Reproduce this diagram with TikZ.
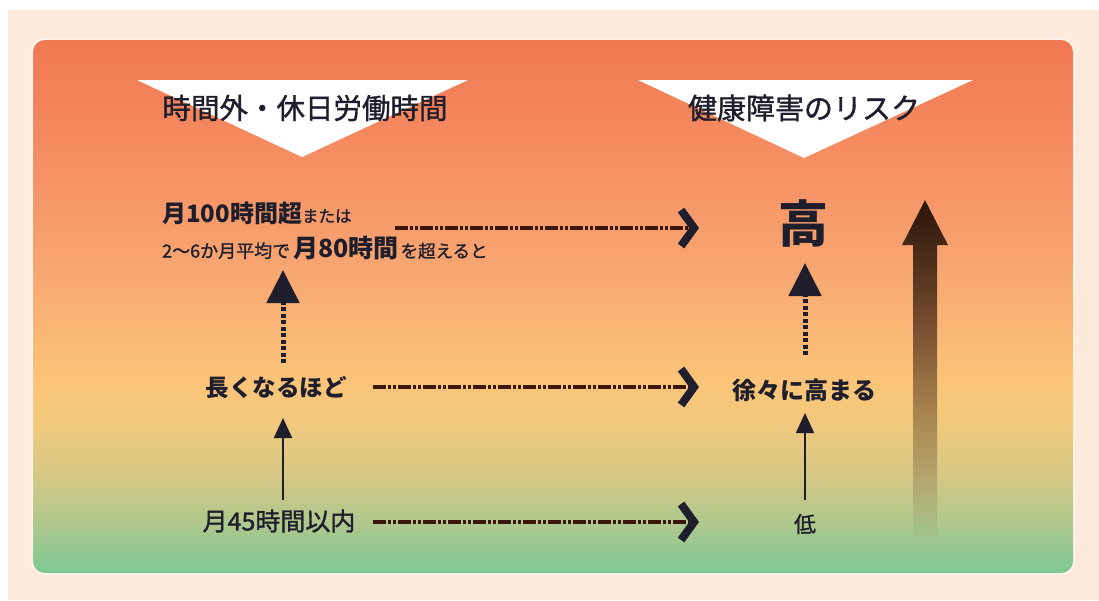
\documentclass[tikz,border=0pt]{standalone}
\usepackage{fontspec}
\newfontfamily\jp{Noto Sans CJK JP}
\newfontfamily\jpm{Noto Sans CJK JP}[FakeBold=1.2]
\usetikzlibrary{arrows.meta,fadings}
\definecolor{pagebg}{HTML}{FCEADD}
\definecolor{ga}{HTML}{F07852}
\definecolor{gb}{HTML}{F58C62}
\definecolor{gc}{HTML}{F7A470}
\definecolor{gd}{HTML}{FBC478}
\definecolor{ge}{HTML}{F2C97C}
\definecolor{gf}{HTML}{D2C886}
\definecolor{gg}{HTML}{A8C88E}
\definecolor{gh}{HTML}{7CC892}
\definecolor{ink}{HTML}{1E1E2C}
\definecolor{dashbrown}{HTML}{3A160C}
\definecolor{arrowdark}{HTML}{2A1508}
\tikzfading[name=arrowfade, top color=transparent!0, bottom color=transparent!100]
\newcommand\fs[1]{\fontsize{#1}{#1}\selectfont}
\tikzset{
  txt/.style={inner sep=0pt, text=ink, font=\jp},
  hdash/.style={draw=dashbrown, line width=4pt,
    dash pattern=on 13pt off 2pt on 3pt off 2pt on 3pt off 2pt,
    -{Straight Barb[length=13pt, width=36pt, line width=8pt, color=ink]}},
  vdot/.style={draw=ink, line width=5pt, dash pattern=on 4pt off 2.5pt,
    -{Triangle[length=33pt, width=32pt]}},
  vthin/.style={draw=ink, line width=1.8pt, -{Triangle[length=20pt, width=18pt]}},
  banner/.style={fill=white}
}
\begin{document}
\begin{tikzpicture}[x=1pt,y=-1pt]
\useasboundingbox (0,0) rectangle (1099,600);
% page background
\fill[pagebg] (0,0) rectangle (1099,600);
\fill[white] (0,0) rectangle (1099,10);
\fill[white] (0,0) rectangle (8,600);
% panel with gradient
\begin{scope}
\clip[rounded corners=12pt] (33,40) rectangle (1073,573);
\shade[top color=ga, bottom color=gb] (33,39) rectangle (1073,151);
\shade[top color=gb, bottom color=gc] (33,150) rectangle (1073,261);
\shade[top color=gc, bottom color=gd] (33,260) rectangle (1073,381);
\shade[top color=gd, bottom color=ge] (33,380) rectangle (1073,421);
\shade[top color=ge, bottom color=gf] (33,420) rectangle (1073,481);
\shade[top color=gf, bottom color=gg] (33,480) rectangle (1073,531);
\shade[top color=gg, bottom color=gh] (33,530) rectangle (1073,574);
\end{scope}
\draw[white, opacity=0.5, line width=1.5pt, rounded corners=12pt] (32,39) rectangle (1074,574);
% banners
\fill[banner] (137,80) -- (468,80) -- (302,157) -- cycle;
\fill[banner] (638,80) -- (973,80) -- (804,158) -- cycle;
\node[txt, font=\jpm\fs{28.5}] (h1) at (305,108) {時間外・休日労働時間};
\node[txt, font=\jpm\fs{29}] (h2) at (804,108) {健康障害のリスク};
% left column
\node[txt, anchor=west] (t1a) at (162,213)
  {{\fs{24}\bfseries 月100時間超}{\jpm\fs{16.5}または}};
\node[txt, anchor=west] (t1b) at (162,248)
  {{\jpm\fs{18}2〜6か月平均で}\kern3pt{\fs{25}\bfseries 月80時間}\kern2pt{\jpm\fs{17.5}を超えると}};
\node[txt, font=\jp\fs{23.5}\bfseries] (t2) at (276,388) {長くなるほど};
\node[txt, font=\jpm\fs{25}] (t3) at (279,521) {月45時間以内};
% right column
\node[txt, font=\jp\fs{50}\bfseries] (r1) at (803,223) {高};
\node[txt, font=\jp\fs{24}\bfseries] (r2) at (804,390) {徐々に高まる};
\node[txt, font=\jpm\fs{22}] (r3) at (805,524) {低};
% connector end points
\coordinate (a1s) at (395,228); \coordinate (a1e) at (699,228);
\coordinate (a2s) at (373,387); \coordinate (a2e) at (699,387);
\coordinate (a3s) at (373,522); \coordinate (a3e) at (699,522);
\coordinate (l1s) at (283,363); \coordinate (l1e) at (283,270);
\coordinate (l2s) at (283,500); \coordinate (l2e) at (283,418);
\coordinate (r1s) at (805,355); \coordinate (r1e) at (805,263);
\coordinate (r2s) at (805,500); \coordinate (r2e) at (805,413);
% horizontal connectors
\draw[hdash] (a1s) -- (a1e);
\draw[hdash] (a2s) -- (a2e);
\draw[hdash] (a3s) -- (a3e);
% vertical connectors
\draw[vdot] (l1s) -- (l1e);
\draw[vthin] (l2s) -- (l2e);
\draw[vdot] (r1s) -- (r1e);
\draw[vthin] (r2s) -- (r2e);
% big rising arrow
\fill[arrowdark, path fading=arrowfade]
  (913,542) -- (913,245) -- (902,245) -- (925,200) -- (948,245)
  -- (937,245) -- (937,542) -- cycle;
\end{tikzpicture}
\end{document}
